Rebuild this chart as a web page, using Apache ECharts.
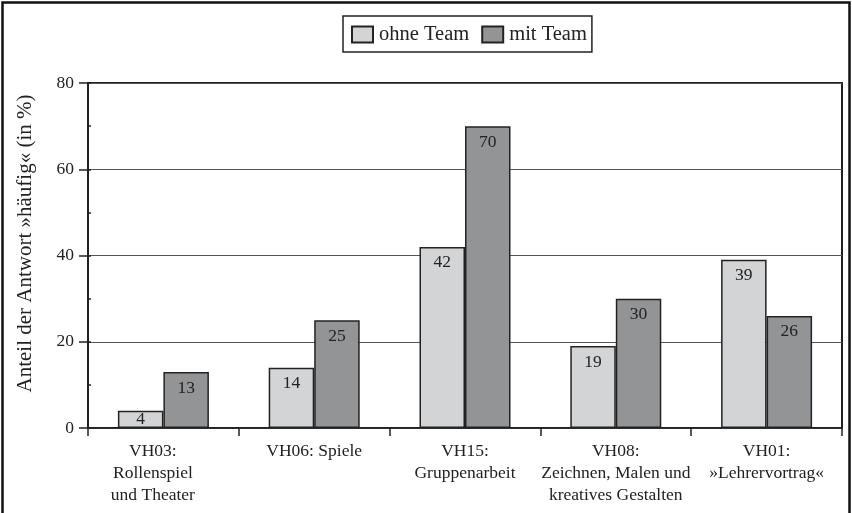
<!DOCTYPE html>
<html><head><meta charset="utf-8">
<script src="https://cdn.jsdelivr.net/npm/echarts@6/dist/echarts.min.js"></script>
<style>html,body{margin:0;padding:0;background:#fff}#c{width:852px;height:513px}</style>
</head><body><div id="c"></div>
<script>
var categories = ['VH03:\nRollenspiel\nund Theater', 'VH06: Spiele', 'VH15:\nGruppenarbeit', 'VH08:\nZeichnen, Malen und\nkreatives Gestalten', 'VH01:\n»Lehrervortrag«'];
var ohneTeam = [4, 14, 42, 19, 39];
var mitTeam = [13, 25, 70, 30, 26];
var yTicks = [0, 20, 40, 60, 80];

var FONT = '"Liberation Serif", "DejaVu Serif", serif';
var chart = echarts.init(document.getElementById('c'));
function barData(arr) {
  return arr.map(function (v) {
    return {value: v, label: {position: v < 8 ? 'inside' : 'insideTop'}};
  });
}
var labelStyle = {show: true, position: 'insideTop', distance: 7, color: '#222', fontFamily: FONT, fontSize: 17.5};
chart.setOption({
  animation: false,
  backgroundColor: '#fff',
  graphic: [{type: 'rect', shape: {x: 2.5, y: 2.5, width: 847, height: 520}, style: {fill: 'none', stroke: '#111', lineWidth: 2.5}, silent: true}],
  legend: {
    top: 16, left: 343,
    data: ['ohne Team', 'mit Team'],
    borderColor: '#222', borderWidth: 1.5, padding: [8, 5, 7, 8],
    itemWidth: 21, itemHeight: 16, itemGap: 12,
    icon: 'rect',
    textStyle: {fontFamily: FONT, fontSize: 20.5, color: '#222', padding: [0, 0, 0, 1]}
  },
  grid: {left: 88, right: 10, top: 83, bottom: 85, show: true, borderColor: '#222', borderWidth: 2, backgroundColor: 'transparent'},
  xAxis: {
    type: 'category', data: categories,
    axisLine: {lineStyle: {color: '#222', width: 1.5}},
    axisTick: {show: true, length: 8, lineStyle: {color: '#222', width: 1.5}},
    axisLabel: {
      fontFamily: FONT, fontSize: 17.5, color: '#222', lineHeight: 22, margin: 12, interval: 0,
      formatter: function (v, i) { return i === 0 ? v.split('\n').map(function (s) { return '{a|' + s + '}'; }).join('\n') : v; },
      rich: {a: {fontFamily: FONT, fontSize: 17.5, color: '#222', lineHeight: 22, padding: [0, 21, 0, 0]}}
    }
  },
  yAxis: [{
    type: 'value', min: yTicks[0], max: yTicks[yTicks.length - 1], interval: 20,
    name: 'Anteil der Antwort »häufig« (in %)', nameLocation: 'middle', nameGap: 52,
    nameTextStyle: {fontFamily: FONT, fontSize: 21, color: '#222', padding: [0, 0, 0, 24]},
    axisLine: {show: true, lineStyle: {color: '#222', width: 1.5}},
    axisTick: {show: true, length: 9, lineStyle: {color: '#222', width: 1.5}},
    axisLabel: {fontFamily: FONT, fontSize: 17.5, color: '#222', margin: 14},
    splitLine: {show: true, lineStyle: {color: '#555', width: 1.2}}
  }, {
    type: 'value', min: 0, max: 80, interval: 10, position: 'left', offset: 0,
    axisLine: {show: false}, axisLabel: {show: false}, splitLine: {show: false},
    axisTick: {show: true, inside: true, length: 3, lineStyle: {color: '#222', width: 1.5}}
  }],
  series: [{
    name: 'ohne Team', type: 'bar', data: barData(ohneTeam), barWidth: 45.5, barGap: '0%',
    itemStyle: {color: '#d3d4d6', borderColor: '#222', borderWidth: 1.5},
    label: labelStyle
  }, {
    name: 'mit Team', type: 'bar', data: barData(mitTeam), barWidth: 45.5, barGap: '0%',
    itemStyle: {color: '#939496', borderColor: '#222', borderWidth: 1.5},
    label: labelStyle
  }]
});
</script></body></html>
